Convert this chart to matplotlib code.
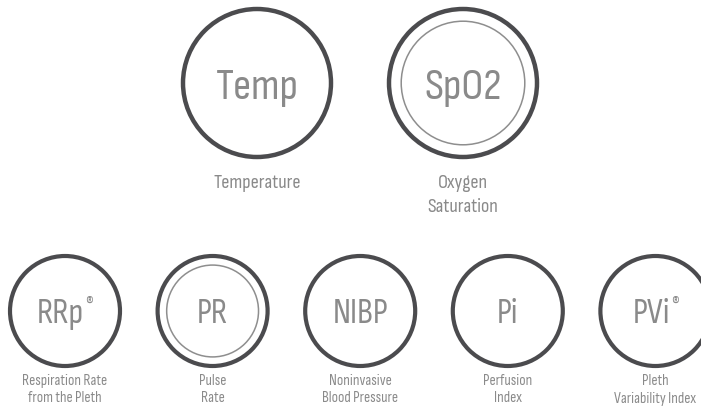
import matplotlib
matplotlib.use('Agg')
import matplotlib.pyplot as plt
from matplotlib.patches import Circle

# Parameters shown as rings
top_abbr = ['Temp', 'SpO2']
top_desc = ['Temperature', 'Oxygen\nSaturation']
top_double = [False, True]
top_reg = [False, False]

bottom_abbr = ['RRp', 'PR', 'NIBP', 'Pi', 'PVi']
bottom_desc = ['Respiration Rate\nfrom the Pleth', 'Pulse\nRate', 'Noninvasive\nBlood Pressure',
               'Perfusion\nIndex', 'Pleth\nVariability Index']
bottom_double = [False, True, False, False, False]
bottom_reg = [True, False, False, False, True]

family = ['Sofia Sans Condensed', 'DejaVu Sans']

ring_color = '#4b4b4e'
text_color = '#8a8a8a'

W, H = 701, 408
fig = plt.figure(figsize=(W / 100, H / 100), dpi=100)
ax = fig.add_axes([0, 0, 1, 1])
ax.set_xlim(0, W)
ax.set_ylim(H, 0)
ax.set_aspect('equal')
ax.axis('off')


def draw_row(abbr, desc, double, reg, xs, cy, r, lw, big, small, desc_y, line_gap):
    fig.canvas.draw()
    renderer = fig.canvas.get_renderer()
    cap = big * 100 / 72 * 0.7
    for i, cx in enumerate(xs):
        ax.add_patch(Circle((cx, cy), r, fill=False, ec=ring_color, lw=lw))
        if double[i]:
            ax.add_patch(Circle((cx, cy), r * 0.835, fill=False, ec='#8e8e8e', lw=1.1))
        t = ax.text(cx, cy + cap / 2, abbr[i], ha='center', va='baseline', fontsize=big,
                    color=text_color, family=family)
        if reg[i]:
            w_main = t.get_window_extent(renderer).width  # pixels == data units
            mark = ax.text(0, 0, '\u00ae', fontsize=big * 0.5, color=text_color,
                           family=family, va='top')
            w_mark = mark.get_window_extent(renderer).width
            total = w_main + w_mark + 1
            left = cx - total / 2
            t.set_x(left + w_main / 2)
            mark.set_position((left + w_main + 1, cy - cap / 2 - 1.5))
        lines = desc[i].split('\n')
        for j, line in enumerate(lines):
            ax.text(cx, desc_y + j * line_gap, line, ha='center', va='center', fontsize=small,
                    color=text_color, family=family)


top_x = [257, 257 + 206]
draw_row(top_abbr, top_desc, top_double, top_reg, top_x, 83, 74, 3.2, 32, 14.5, 183, 24)

bottom_x = [65 + 147.6 * k for k in range(len(bottom_abbr))]
draw_row(bottom_abbr, bottom_desc, bottom_double, bottom_reg, bottom_x, 311, 55, 3.0, 25.5, 11, 381, 17.5)

fig.savefig('out.png', dpi=100)
